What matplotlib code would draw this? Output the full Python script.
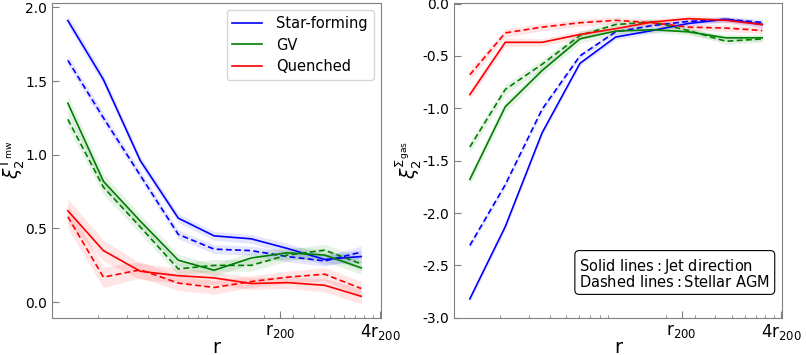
import numpy as np
import matplotlib
matplotlib.use("Agg")
import matplotlib.pyplot as plt
from matplotlib.ticker import FixedLocator, LogLocator, NullFormatter

plt.rcParams['axes.unicode_minus'] = False

# radial bins (r200 = 25 in these units, 4 r200 = 100)
R200 = 25.0
r = [1.32, 2.16, 3.6, 6.09, 10.0, 16.7, 27.5, 46.2, 76.6]

# left panel: xi_2 of T_mw
tmw_sf_jet = [1.91, 1.51, 0.96, 0.57, 0.45, 0.43, 0.365, 0.29, 0.31]
tmw_sf_agm = [1.64, 1.25, 0.86, 0.46, 0.36, 0.35, 0.31, 0.28, 0.34]
tmw_gv_jet = [1.35, 0.82, 0.55, 0.285, 0.217, 0.30, 0.335, 0.32, 0.233]
tmw_gv_agm = [1.24, 0.78, 0.51, 0.226, 0.25, 0.25, 0.32, 0.353, 0.26]
tmw_q_jet = [0.62, 0.35, 0.21, 0.18, 0.165, 0.127, 0.133, 0.115, 0.04]
tmw_q_agm = [0.58, 0.17, 0.22, 0.13, 0.10, 0.14, 0.17, 0.19, 0.093]
tmw_sf_err = [0.035, 0.035, 0.03, 0.03, 0.03, 0.03, 0.035, 0.035, 0.04]
tmw_gv_err = [0.055, 0.05, 0.045, 0.04, 0.04, 0.04, 0.04, 0.04, 0.045]
tmw_q_err = [0.08, 0.07, 0.055, 0.05, 0.045, 0.04, 0.04, 0.045, 0.05]

# right panel: xi_2 of Sigma_gas
sg_sf_jet = [-2.82, -2.13, -1.235, -0.571, -0.32, -0.257, -0.19, -0.15, -0.20]
sg_sf_agm = [-2.31, -1.73, -1.01, -0.50, -0.27, -0.21, -0.17, -0.15, -0.18]
sg_gv_jet = [-1.68, -0.985, -0.64, -0.337, -0.263, -0.25, -0.27, -0.327, -0.327]
sg_gv_agm = [-1.37, -0.82, -0.58, -0.305, -0.20, -0.176, -0.257, -0.36, -0.337]
sg_q_jet = [-0.87, -0.37, -0.37, -0.295, -0.24, -0.176, -0.144, -0.16, -0.20]
sg_q_agm = [-0.68, -0.28, -0.225, -0.183, -0.16, -0.183, -0.225, -0.234, -0.257]
sg_sf_err = [0.03, 0.03, 0.03, 0.025, 0.025, 0.025, 0.025, 0.025, 0.03]
sg_gv_err = [0.05, 0.05, 0.045, 0.04, 0.035, 0.03, 0.03, 0.03, 0.03]
sg_q_err = [0.045, 0.04, 0.035, 0.035, 0.03, 0.03, 0.03, 0.03, 0.03]

labels = ['Star-forming', 'GV', 'Quenched']
colors = ['blue', 'green', 'red']


def draw(ax, jets, agms, errs, with_legend=False):
    x = np.array(r)
    for jet, agm, err, c, lab in zip(jets, agms, errs, colors, labels):
        jet = np.array(jet); agm = np.array(agm); err = np.array(err)
        ax.fill_between(x, jet-err, jet+err, color=c, alpha=0.1, lw=0)
        ax.fill_between(x, agm-err, agm+err, color=c, alpha=0.1, lw=0)
        ax.plot(x, jet, color=c, lw=1.2, ls='solid', label=lab)
        ax.plot(x, agm, color=c, lw=1.2, ls=(0, (3.5, 2)))
    ax.set_xscale('log')
    ax.set_xlim(1.06, 100.5)
    ax.xaxis.set_major_locator(FixedLocator([R200, 4*R200]))
    ax.set_xticklabels([r'$\rm r_{200}$', r'$\rm 4r_{200}$'])
    ax.xaxis.set_minor_locator(LogLocator(base=10, subs=np.arange(2, 10)))
    ax.xaxis.set_minor_formatter(NullFormatter())
    ax.tick_params(which='both', direction='in', color='gray', labelsize=10)
    ax.tick_params(axis='x', which='major', length=5, labelsize=12, pad=3)
    ax.tick_params(which='minor', length=2.5)
    ax.tick_params(axis='y', length=5)
    for s in ax.spines.values():
        s.set_color('gray')
    ax.set_xlabel('r', fontsize=14, labelpad=-3)
    if with_legend:
        ax.legend(loc='upper right', fontsize=10.5, fancybox=True,
                  handletextpad=1.0, labelspacing=0.45)


fig = plt.figure(figsize=(8.06, 3.55), dpi=100)
ax1 = fig.add_axes([0.0645, 0.105, 0.408, 0.887])
ax2 = fig.add_axes([0.5633, 0.105, 0.4067, 0.887])

draw(ax1, [tmw_sf_jet, tmw_gv_jet, tmw_q_jet], [tmw_sf_agm, tmw_gv_agm, tmw_q_agm],
     [tmw_sf_err, tmw_gv_err, tmw_q_err], with_legend=True)
ax1.set_ylim(-0.105, 2.03)
ax1.set_yticks([0.0, 0.5, 1.0, 1.5, 2.0])
ax1.set_ylabel(r'$\xi_2^{\rm T_{mw}}$', fontsize=13.5, labelpad=-1)

draw(ax2, [sg_sf_jet, sg_gv_jet, sg_q_jet], [sg_sf_agm, sg_gv_agm, sg_q_agm],
     [sg_sf_err, sg_gv_err, sg_q_err])
ax2.set_ylim(-3.0, 0.007)
ax2.set_yticks([-3.0, -2.5, -2.0, -1.5, -1.0, -0.5, 0.0])
ax2.set_ylabel(r'$\xi_2^{\Sigma_{\rm gas}}$', fontsize=13.5, labelpad=-1)
ax2.text(0.965, 0.088, r'$\rm Solid\ lines: Jet\ direction$' + '\n' + r'$\rm Dashed\ lines: Stellar\ AGM$',
         transform=ax2.transAxes, ha='right', va='bottom', multialignment='left',
         fontsize=10.5, linespacing=0.85,
         bbox=dict(boxstyle='round,pad=0.3', fc='white', ec='black', lw=0.8))

fig.savefig('out.png', dpi=100)
